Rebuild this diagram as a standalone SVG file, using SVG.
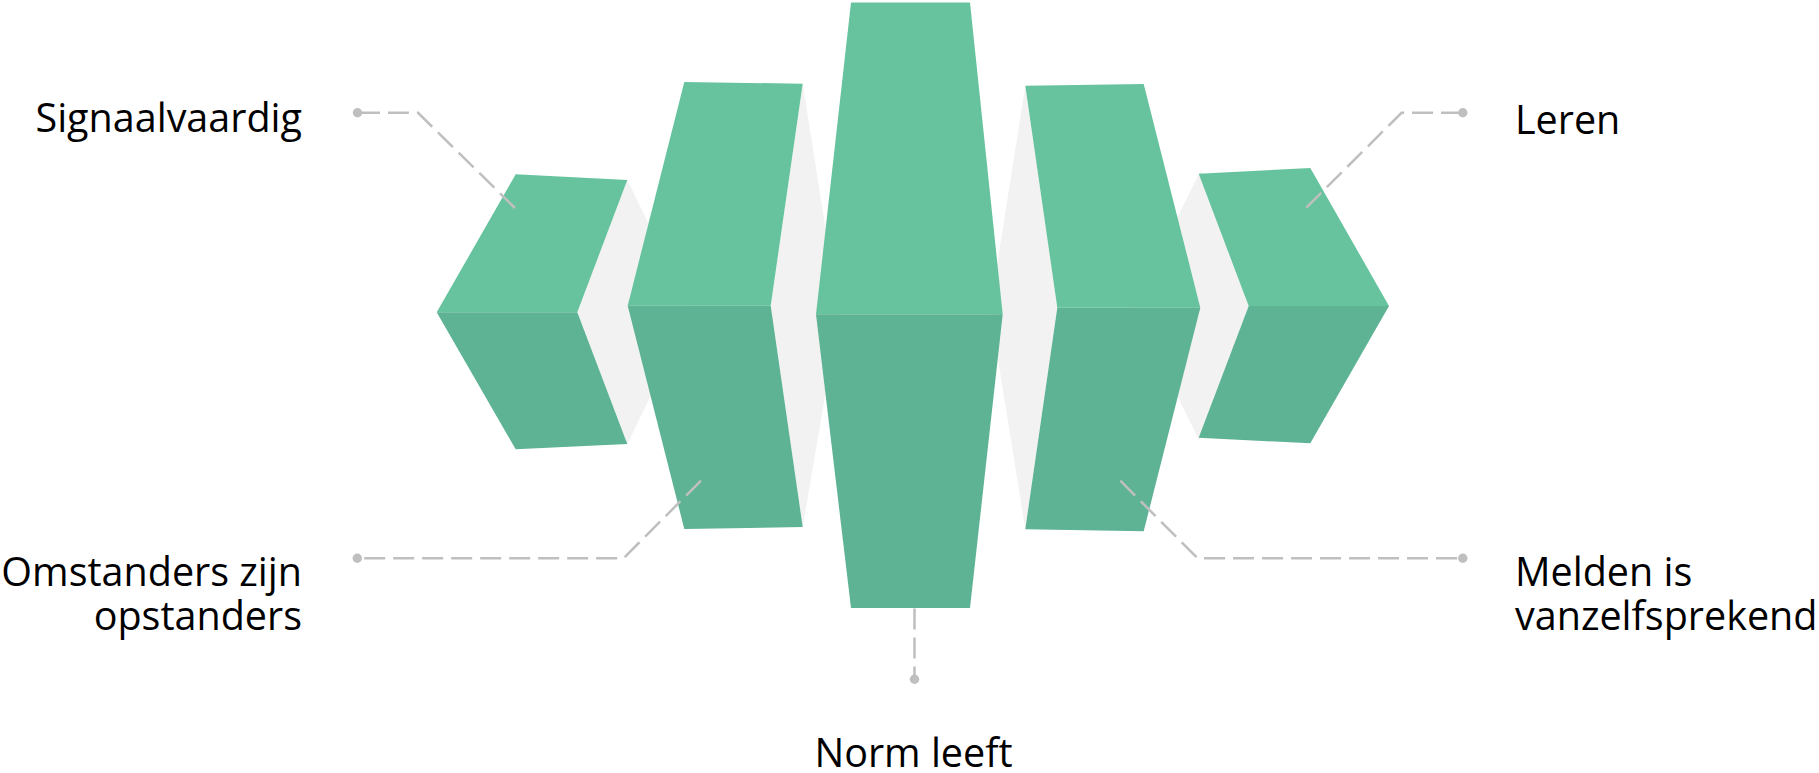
<svg xmlns="http://www.w3.org/2000/svg" width="1819" height="773" viewBox="0 0 1819 773">
  <style>
    .top { fill: #67C39E; }
    .bot { fill: #5DB393; }
    .shadow { fill: #F2F2F2; }
    .conn { fill: none; stroke: #BFBFBF; stroke-width: 2.5; stroke-dasharray: 21 8; }
    .dot { fill: #BFBFBF; }
    .lbl { font-family: "Open Sans", "Noto Sans", sans-serif; font-size: 39.5px; fill: #000000; }
  </style>
  <rect width="1819" height="773" fill="#FFFFFF"/>
  <g id="shadows">
    <polygon class="shadow" points="627.3,180 691.7,312 627.3,444 577.3,312"/>
    <polygon class="shadow" points="802.7,83.7 839,314 802.7,527 770.7,305.7"/>
    <polygon class="shadow" points="1025.3,86 1057.3,307.7 1025.3,529 990,310"/>
    <polygon class="shadow" points="1201,170 1248.7,306 1199,440 1133,306"/>
  </g>
  <g id="node-signaalvaardig">
    <polygon class="top" points="515.7,174.3 627.3,180 577.3,312.3 436.7,312.3"/>
    <polygon class="bot" points="436.7,312.3 577.3,312.3 627.3,444 515.7,449.3"/>
    <text class="lbl" x="302" y="131.5" text-anchor="end">Signaalvaardig</text>
  </g>
  <g id="node-omstanders">
    <polygon class="top" points="684.3,82 802.7,83.7 770.7,305.7 627.7,305.7"/>
    <polygon class="bot" points="627.7,305.7 770.7,305.7 802.7,527 684.3,529"/>
    <text class="lbl" text-anchor="end"><tspan x="302" y="586">Omstanders zijn</tspan><tspan x="302" y="629.5">opstanders</tspan></text>
  </g>
  <g id="node-norm">
    <polygon class="top" points="851,2.4 970,2.4 1002.7,314.3 816,314.3"/>
    <polygon class="bot" points="816,314.3 1002.7,314.3 970,608 851,608"/>
    <text class="lbl" x="913.5" y="767" text-anchor="middle">Norm leeft</text>
  </g>
  <g id="node-melden">
    <polygon class="top" points="1025.3,85.7 1143.7,84 1200.3,307.7 1057.3,307.7"/>
    <polygon class="bot" points="1057.3,307.7 1200.3,307.7 1143.7,531.3 1025.3,529.3"/>
    <text class="lbl"><tspan x="1515" y="586">Melden is</tspan><tspan x="1515" y="629.5">vanzelfsprekend</tspan></text>
  </g>
  <g id="node-leren">
    <polygon class="top" points="1198.7,173.7 1310.3,168 1389,306 1248.7,306"/>
    <polygon class="bot" points="1248.7,306 1389,306 1310.3,443.3 1198.7,437.7"/>
    <text class="lbl" x="1515" y="134">Leren</text>
  </g>
  <g id="connectors">
    <path class="conn" d="M515,208 L418,112.8 L357.5,112.8"/>
    <circle class="dot" cx="357.5" cy="112.8" r="4.7"/>
    <path class="conn" d="M701,480.7 L623.5,558.3 L357.3,558.3"/>
    <circle class="dot" cx="357.3" cy="558.3" r="4.7"/>
    <path class="conn" d="M1306.3,207.7 L1401.5,112.8 L1462.8,112.8"/>
    <circle class="dot" cx="1462.8" cy="112.8" r="4.7"/>
    <path class="conn" d="M1120.3,480.7 L1197.6,558.3 L1462.8,558.3"/>
    <circle class="dot" cx="1462.8" cy="558.3" r="4.7"/>
    <path class="conn" d="M914.5,608.5 L914.5,679.3"/>
    <circle class="dot" cx="914.5" cy="679.3" r="4.7"/>
  </g>
</svg>
